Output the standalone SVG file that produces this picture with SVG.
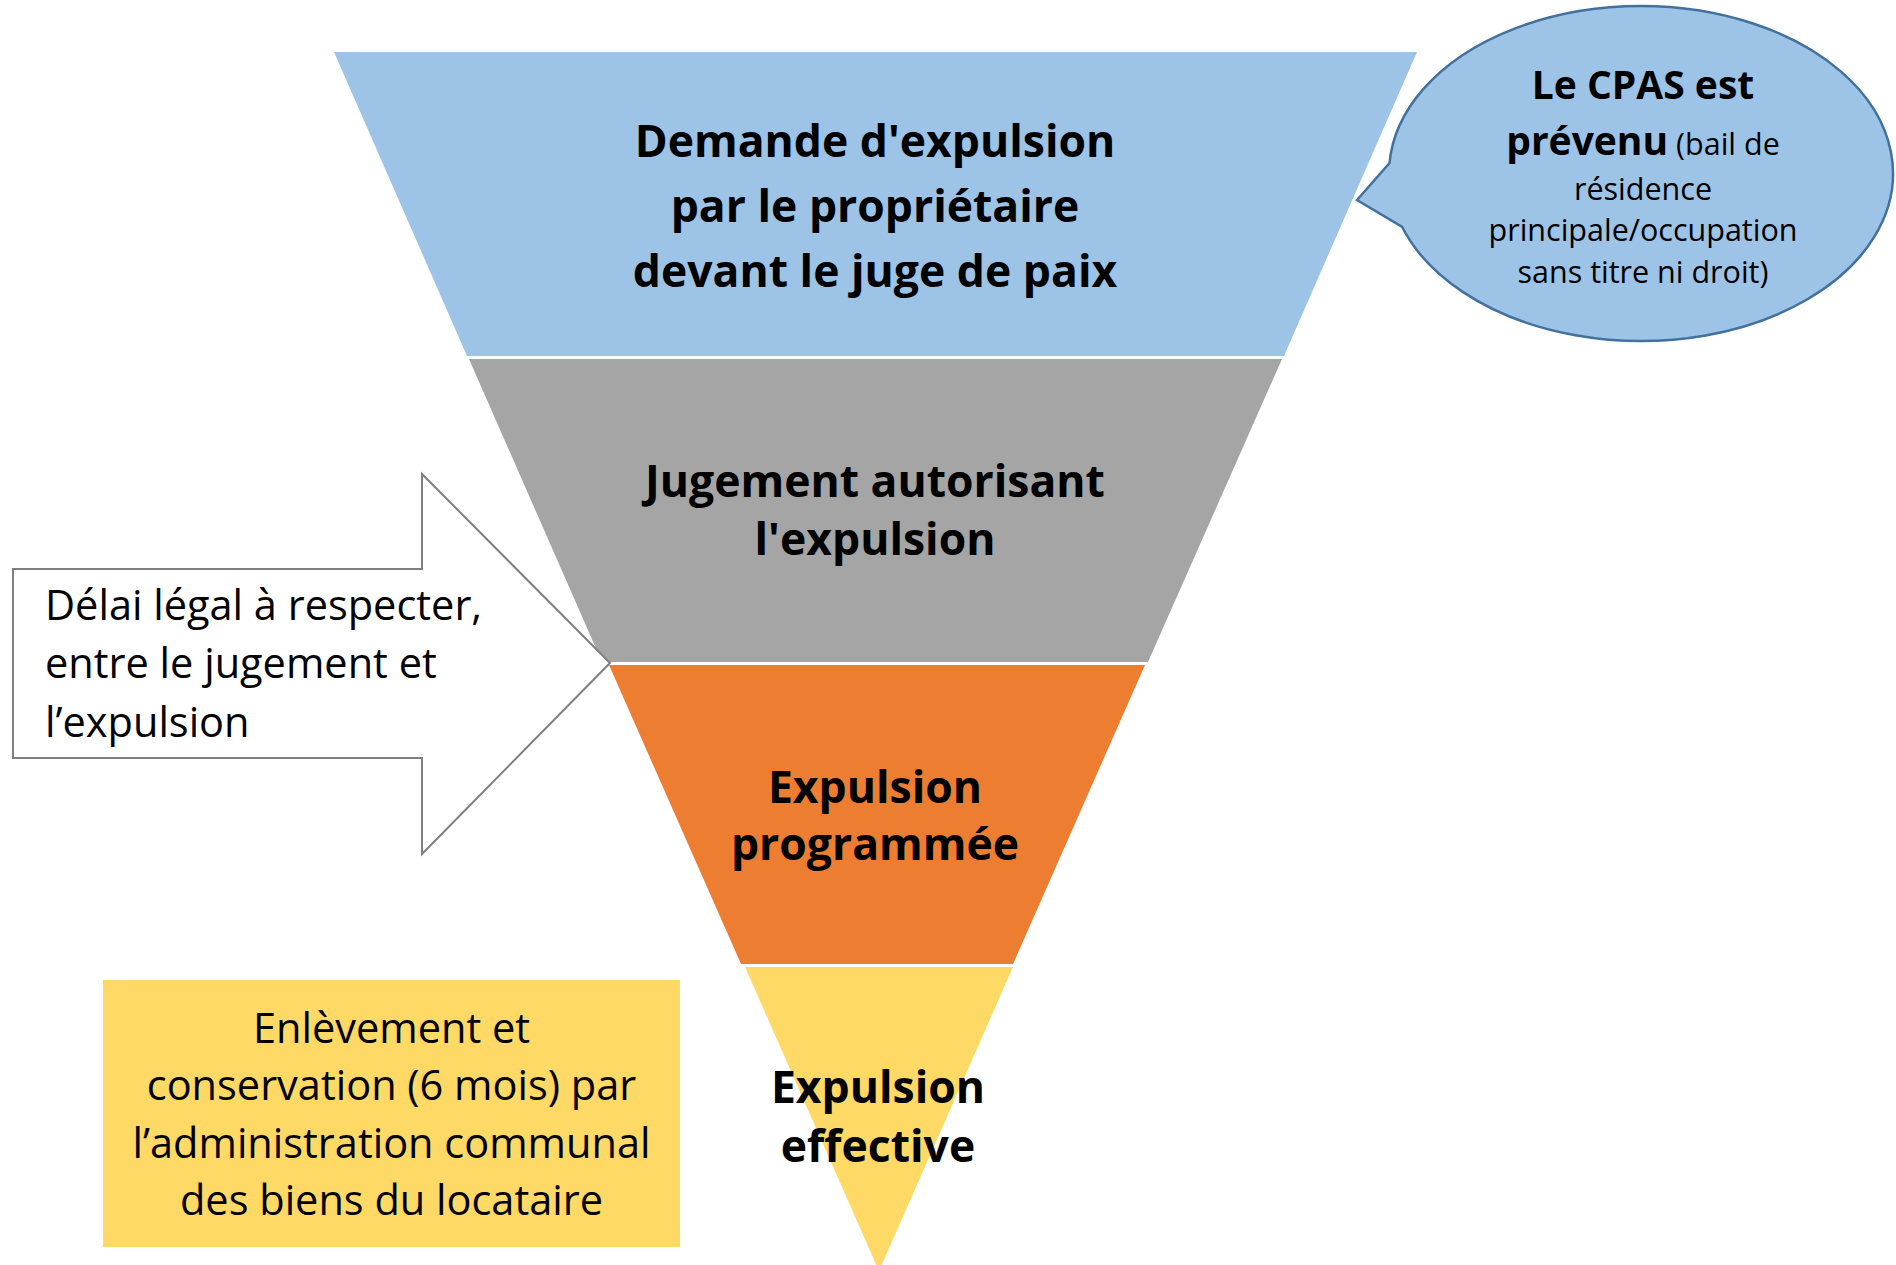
<svg xmlns="http://www.w3.org/2000/svg" width="1896" height="1265" viewBox="0 0 1896 1265">
<style>
text{font-family:"Open Sans","Noto Sans","Liberation Sans",sans-serif;fill:#000}
.b{font-weight:700;font-size:44.5px}
.r{font-size:41.5px}
.c{font-size:30.5px}
.seg{stroke:none}
</style>
<rect width="1896" height="1265" fill="#fff"/>
<g id="connectors"></g>
<g id="step1">
<polygon class="seg" points="334,52 1417,52 1284,356 467,356" fill="#9DC3E6"/>
<text class="b" text-anchor="middle" x="875" y="157">Demande d'expulsion</text>
<text class="b" text-anchor="middle" x="875" y="222">par le propriétaire</text>
<text class="b" text-anchor="middle" x="875" y="287">devant le juge de paix</text>
</g>
<g id="step2">
<polygon class="seg" points="469,359 1282,359 1148,662 602,662" fill="#A5A5A5"/>
<text class="b" text-anchor="middle" x="875" y="497">Jugement autorisant</text>
<text class="b" text-anchor="middle" x="875" y="555">l'expulsion</text>
</g>
<g id="step3">
<polygon class="seg" points="609,665 1145,665 1013,964 741,964" fill="#ED7D31"/>
<text class="b" text-anchor="middle" x="875" y="803">Expulsion</text>
<text class="b" text-anchor="middle" x="875" y="860">programmée</text>
</g>
<g id="step4">
<polygon class="seg" points="745,967 1013,967 879,1271" fill="#FFD966"/>
<text class="b" text-anchor="middle" x="878" y="1103">Expulsion</text>
<text class="b" text-anchor="middle" x="878" y="1162">effective</text>
</g>
<g id="callout-cpas">
<path d="M1357,200 L1389.5,163 A252,167.5 0 1 1 1402.2,227 Z" fill="#9DC3E6" stroke="#41719C" stroke-width="2.5" stroke-linejoin="miter"/>
<text text-anchor="middle" x="1643" y="99" style="font-weight:700;font-size:39px">Le CPAS est</text>
<text text-anchor="middle" x="1643" y="155"><tspan style="font-weight:700;font-size:39px">prévenu</tspan><tspan class="c"> (bail de</tspan></text>
<text class="c" text-anchor="middle" x="1643" y="200">résidence</text>
<text class="c" text-anchor="middle" x="1643" y="241">principale/occupation</text>
<text class="c" text-anchor="middle" x="1643" y="283">sans titre ni droit)</text>
</g>
<g id="arrow-delai">
<polygon points="13,569 422,569 422,474 610,663 422,854 422,758 13,758" fill="#fff" stroke="#7F7F7F" stroke-width="2"/>
<text class="r" x="45" y="620">Délai légal à respecter,</text>
<text class="r" x="45" y="678">entre le jugement et</text>
<text class="r" x="45" y="737">l’expulsion</text>
</g>
<g id="box-enlevement">
<rect x="103" y="980" width="577" height="267" fill="#FFD966"/>
<text class="r" text-anchor="middle" x="391.5" y="1043">Enlèvement et</text>
<text class="r" text-anchor="middle" x="391.5" y="1100">conservation (6 mois) par</text>
<text class="r" text-anchor="middle" x="391.5" y="1158">l’administration communal</text>
<text class="r" text-anchor="middle" x="391.5" y="1215">des biens du locataire</text>
</g>
</svg>
